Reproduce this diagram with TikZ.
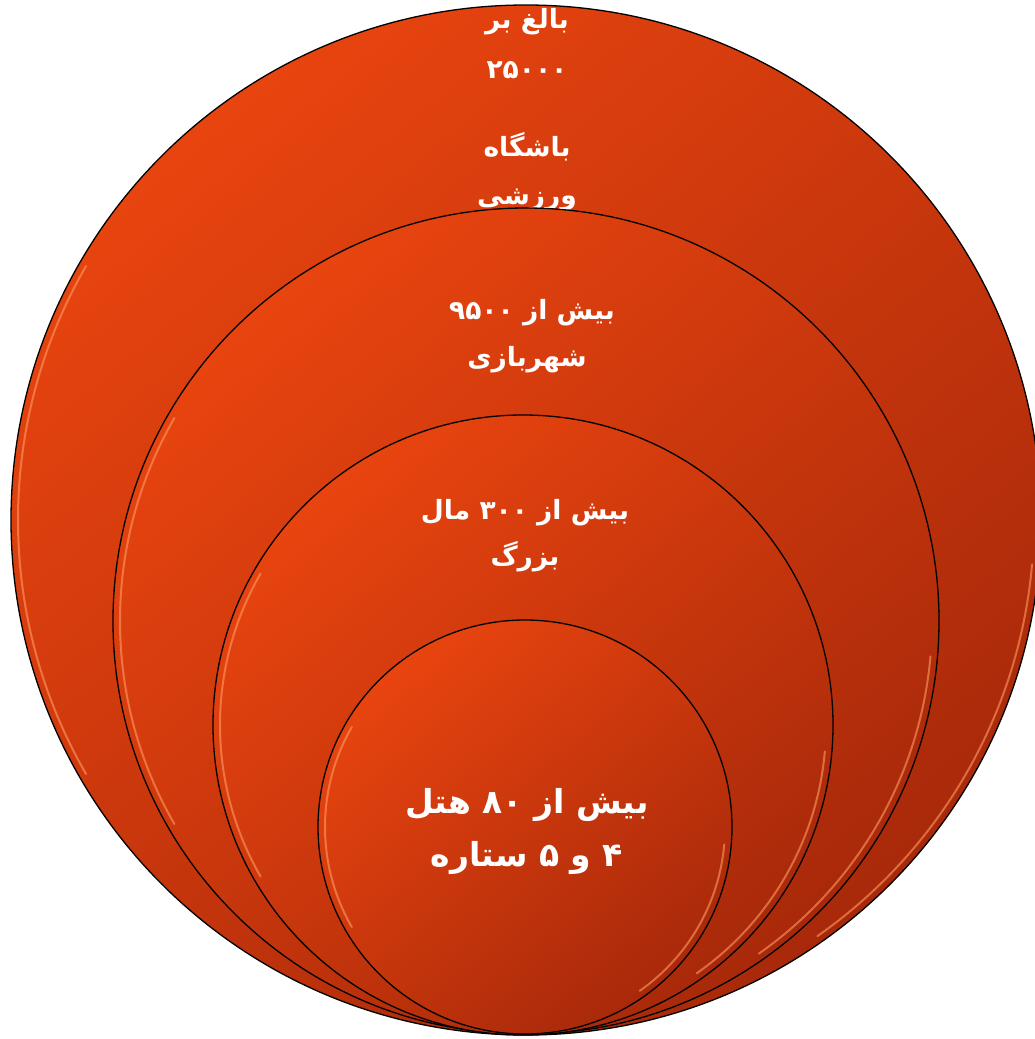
\documentclass[tikz,border=0pt]{standalone}
\usepackage{fontspec}
\newfontfamily\fa[Script=Arabic]{DejaVu Sans}
\TeXXeTstate=1
\definecolor{olight}{HTML}{E8440F}
\definecolor{odark}{HTML}{A8290A}
\definecolor{ohl}{HTML}{FF9A62}
\tikzset{
  ring/.style={circle, draw=black, line width=1.3pt, top color=olight, bottom color=odark, shading angle=40, inner sep=0pt},
  hl/.style={draw=ohl, line width=2pt, opacity=0.6, line cap=round},
  txt/.style={text=white, font=\fontsize{26.5}{30}\selectfont\bfseries\fa, inner sep=0pt},
  bigtxt/.style={text=white, font=\fontsize{33}{38}\selectfont\bfseries\fa, inner sep=0pt}
}
\newcommand{\hls}[2]{%
  \draw[hl] ([shift={(-150:#2-7)}]#1.center) arc[start angle=-150, end angle=-210, radius=#2-7];
  \draw[hl] ([shift={(55:#2-7)}]#1.center) arc[start angle=55, end angle=5, radius=#2-7];
}
\begin{document}
\begin{tikzpicture}[x=1pt,y=-1pt]
\useasboundingbox (0,0) rectangle (1035,1039);
\clip (0,0) rectangle (1035,1039);
% outer circle
\node[ring, minimum size=1030pt] (c1) at (526,520) {};
\hls{c1}{515}
\node[txt] (t1a) at (527,22) {\beginR بالغ بر\endR};
\node[txt] (t1b) at (527,70) {\beginR ۲۵۰۰۰\endR};
\node[txt] (t1c) at (527,147) {\beginR باشگاه\endR};
\node[txt] (t1d) at (527,200) {\beginR ورزشی\endR};
% second circle
\node[ring, minimum size=826pt] (c2) at (526,621) {};
\hls{c2}{413}
\node[txt] (t2a) at (532,313) {\beginR بیش از ۹۵۰۰\endR};
\node[txt] (t2b) at (527,360) {\beginR شهربازی\endR};
% third circle
\node[ring, minimum size=620pt] (c3) at (523,725) {};
\hls{c3}{310}
\node[txt] (t3a) at (525,513) {\beginR بیش از ۳۰۰ مال\endR};
\node[txt] (t3b) at (525,557) {\beginR بزرگ\endR};
% inner circle
\node[ring, minimum size=414pt] (c4) at (525,827) {};
\hls{c4}{207}
\node[bigtxt] (t4a) at (527,805) {\beginR بیش از ۸۰ هتل\endR};
\node[bigtxt] (t4b) at (527,858) {\beginR ۴ و ۵ ستاره\endR};
\end{tikzpicture}
\end{document}
